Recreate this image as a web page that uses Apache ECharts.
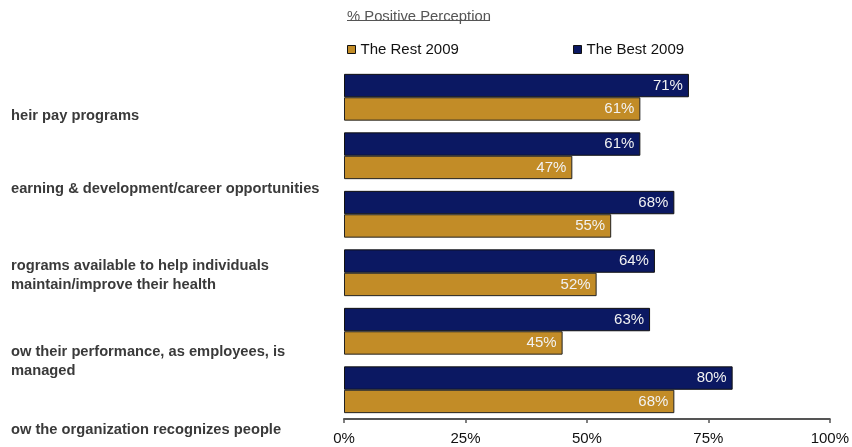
<!DOCTYPE html>
<html>
<head>
<meta charset="utf-8">
<style>
  html, body { margin: 0; padding: 0; background: #ffffff; }
  #chart { width: 852px; height: 447px; }
</style>
<script src="https://cdn.jsdelivr.net/npm/echarts@6/dist/echarts.min.js"></script>
</head>
<body>
<div id="chart"></div>
<script>
// Survey items (one pair of bars per item, top to bottom)
const groupKeys = ['item1', 'item2', 'item3', 'item4', 'item5', 'item6'];
// Text column on the left
const sideLabels = [
  'heir pay programs',
  'earning & development/career opportunities',
  'rograms available to help individuals\nmaintain/improve their health',
  'ow their performance, as employees, is\nmanaged',
  'ow the organization recognizes people'
];
const sideLabelY = [116, 189, 275, 361, 430];

const seriesNames = ['The Rest 2009', 'The Best 2009'];
const bestValues = [71, 61, 68, 64, 63, 80];
const restValues = [61, 47, 55, 52, 45, 68];
const tickLabels = ['0%', '25%', '50%', '75%', '100%'];

const FONT = '"Liberation Sans", Arial, sans-serif';
const BLUE = '#0b1862';
const GOLD = '#c28c27';

const chart = echarts.init(document.getElementById('chart'), null, { renderer: 'canvas' });

const barLabel = {
  show: true,
  position: 'insideRight',
  distance: 6,
  color: '#f2f2f2',
  fontSize: 15,
  fontFamily: FONT,
  formatter: p => p.value + '%'
};

const legendBase = {
  top: 37,
  icon: 'rect',
  itemWidth: 8,
  itemHeight: 8,
  itemStyle: { borderColor: '#111', borderWidth: 1 },
  textStyle: { fontSize: 15, color: '#111', fontFamily: FONT },
  selectedMode: false
};

const graphics = [
  {
    type: 'text',
    left: 347,
    top: 9,
    style: { text: '% Positive Perception', fontSize: 14.8, fill: '#555', fontFamily: FONT }
  },
  {
    type: 'line',
    shape: { x1: 347, y1: 20.5, x2: 490, y2: 20.5 },
    style: { stroke: '#555', lineWidth: 1 }
  }
];
sideLabels.forEach((t, i) => {
  graphics.push({
    type: 'text',
    x: 11,
    y: sideLabelY[i],
    style: {
      text: t,
      fontSize: 14.7,
      fontWeight: 'bold',
      fill: '#3a3a3a',
      fontFamily: FONT,
      lineHeight: 19,
      verticalAlign: 'middle',
      align: 'left'
    }
  });
});

chart.setOption({
  animation: false,
  backgroundColor: '#ffffff',
  textStyle: { fontFamily: FONT },
  grid: { left: 344, right: 21, top: 68, bottom: 28, containLabel: false },
  legend: [
    Object.assign({ left: 342, data: [seriesNames[0]] }, legendBase),
    Object.assign({ left: 568, data: [seriesNames[1]] }, legendBase)
  ],
  xAxis: {
    type: 'value',
    min: 0,
    max: 100,
    interval: 25,
    axisLine: { show: true, lineStyle: { color: '#555', width: 2 } },
    axisTick: { show: true, length: 4, lineStyle: { color: '#555', width: 1.5 } },
    splitLine: { show: false },
    axisLabel: {
      margin: 12,
      fontSize: 15,
      color: '#111',
      fontFamily: FONT,
      formatter: v => tickLabels[v / 25]
    }
  },
  yAxis: {
    type: 'category',
    data: groupKeys,
    inverse: true,
    axisLine: { show: false },
    axisTick: { show: false },
    axisLabel: { show: false },
    splitLine: { show: false }
  },
  series: [
    {
      name: seriesNames[1],
      type: 'bar',
      data: bestValues,
      barGap: '0%',
      barCategoryGap: '20%',
      itemStyle: { color: BLUE, borderColor: '#111', borderWidth: 1 },
      label: barLabel
    },
    {
      name: seriesNames[0],
      type: 'bar',
      data: restValues,
      barGap: '0%',
      barCategoryGap: '20%',
      itemStyle: { color: GOLD, borderColor: '#222', borderWidth: 1 },
      label: barLabel
    }
  ],
  graphic: graphics
});
</script>
</body>
</html>
